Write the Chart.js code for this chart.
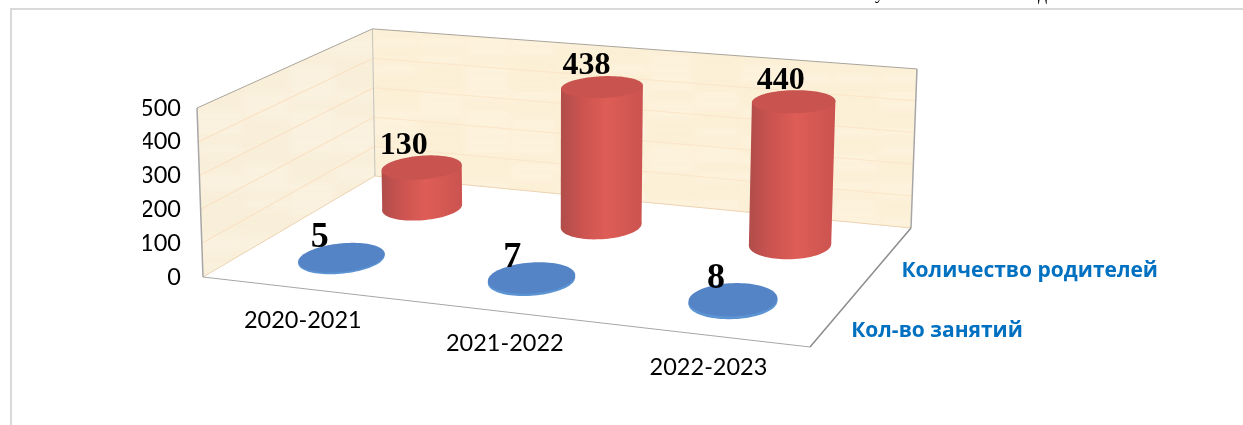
<!DOCTYPE html>
<html lang="ru">
<head>
<meta charset="utf-8">
<title>Chart</title>
<script src="https://cdn.jsdelivr.net/npm/chart.js@4"></script>
<style>
    html, body { margin: 0; padding: 0; background: #fff; overflow: hidden; }
    #frame { position: absolute; left: 10px; top: 8px; right: 0; bottom: 0;
             border-left: 2px solid #d9d9d9; border-top: 2px solid #d9d9d9; }
    canvas { position: absolute; left: 0; top: 0; }
</style>
</head>
<body>
<div id="frame"></div>
<canvas id="bar-chart" width="1243" height="425"></canvas>
<script>
// Data
const categories = ["2020-2021", "2021-2022", "2022-2023"];
const lessons = [5, 7, 8];
const parents = [130, 438, 440];
const seriesNames = ["Кол-во занятий", "Количество родителей"];

// Back corners of the floor, the front ones come from the chart area
const backLeft = { x: 375, y: 176 };
const backRight = { x: 911, y: 228 };
const vanish = { x: 546, y: 9950 }; // verticals fan out slightly from here
const depthRatio = 1.94; // circle radius along depth vs along categories
const categoryShift = [6, 12, 7.5]; // the labels don't sit evenly under the edge

const colors = [
    { top: "#5484c5", side: ["#5b93d3", "#5b93d3", "#5b93d3", "#5b93d3"] },
    { top: "#c8534f", side: ["#b04d4a", "#cb5350", "#de5d56", "#cb5350"] }
];

// square (s along categories, t along depth) -> floor pixel
function makeFloor(area) {
    const x0 = area.left, y0 = area.bottom, x1 = area.right, y1 = area.bottom + 70;
    const x2 = backRight.x, y2 = backRight.y, x3 = backLeft.x, y3 = backLeft.y;
    const dx1 = x1 - x2, dx2 = x3 - x2, sx = x0 - x1 + x2 - x3;
    const dy1 = y1 - y2, dy2 = y3 - y2, sy = y0 - y1 + y2 - y3;
    const det = dx1 * dy2 - dx2 * dy1;
    const g = (sx * dy2 - dx2 * sy) / det;
    const h = (dx1 * sy - sx * dy1) / det;
    const a = x1 - x0 + g * x1, b = x3 - x0 + h * x3;
    const d = y1 - y0 + g * y1, e = y3 - y0 + h * y3;
    return function (s, t) {
        const w = g * s + h * t + 1;
        return { x: (a * s + b * t + x0) / w, y: (d * s + e * t + y0) / w, w: w };
    };
}

// lift a floor point by a height given in chart area pixels
function lift(p, height) {
    const hh = height / p.w;
    return { x: p.x + (p.x - vanish.x) * hh / (vanish.y - p.y), y: p.y - hh };
}

function poly(ctx, pts) {
    ctx.beginPath();
    pts.forEach((p, i) => i ? ctx.lineTo(p.x, p.y) : ctx.moveTo(p.x, p.y));
    ctx.closePath();
}

function fillWall(ctx, pts, base) {
    ctx.save();
    poly(ctx, pts);
    ctx.fillStyle = base;
    ctx.fill();
    ctx.clip();
    // faint paper streaks
    ctx.filter = "blur(3px)";
    const xs = pts.map(p => p.x), ys = pts.map(p => p.y);
    const minX = Math.min(...xs), maxX = Math.max(...xs);
    const minY = Math.min(...ys), maxY = Math.max(...ys);
    for (let y = minY, n = 0; y < maxY; y += 9, n++) {
        for (let x = minX, m = 0; x < maxX; x += 46, m++) {
            const v = Math.sin(n * 12.9 + m * 78.2) * 43758.5;
            const f = v - Math.floor(v);
            ctx.fillStyle = f > 0.5 ? "rgba(255,255,255,0.10)" : "rgba(235,228,190,0.08)";
            ctx.fillRect(x, y, 46, 9);
        }
    }
    ctx.restore();
}

const walls3d = {
    id: "walls3d",
    beforeDatasetsDraw(chart) {
        const ctx = chart.ctx, area = chart.chartArea, y = chart.scales.y;
        const floor = makeFloor(area);
        const base = y.getPixelForValue(0), top = base - y.getPixelForValue(500);
        const fl = floor(0, 0), bl = floor(0, 1), br = floor(1, 1), fr = floor(1, 0);
        const flT = lift(fl, top), blT = lift(bl, top), brT = lift(br, top);

        fillWall(ctx, [fl, flT, blT, bl], "#faf0dc");
        fillWall(ctx, [bl, blT, brT, br], "#fdf1d9");

        // gridlines on the walls
        ctx.lineWidth = 1;
        y.ticks.forEach(tick => {
            if (tick.value === 0 || tick.value === 500) return;
            const h = base - y.getPixelForValue(tick.value);
            const a = lift(fl, h), b = lift(bl, h), c = lift(br, h);
            ctx.strokeStyle = "#fbdfc0";
            ctx.beginPath();
            ctx.moveTo(a.x, a.y);
            ctx.lineTo(b.x, b.y);
            ctx.stroke();
            ctx.strokeStyle = "#fbe6c9";
            ctx.beginPath();
            ctx.moveTo(b.x, b.y);
            ctx.lineTo(c.x, c.y);
            ctx.stroke();
        });

        // wall bottoms
        ctx.strokeStyle = "#ecd2b0";
        ctx.beginPath();
        ctx.moveTo(fl.x, fl.y);
        ctx.lineTo(bl.x, bl.y);
        ctx.lineTo(br.x, br.y);
        ctx.stroke();

        // wall tops and verticals
        ctx.strokeStyle = "#a9a49a";
        ctx.beginPath();
        ctx.moveTo(flT.x, flT.y);
        ctx.lineTo(blT.x, blT.y);
        ctx.lineTo(brT.x, brT.y);
        ctx.stroke();
        ctx.strokeStyle = "#c4c2bc";
        ctx.beginPath();
        ctx.moveTo(blT.x, blT.y);
        ctx.lineTo(bl.x, bl.y);
        ctx.stroke();
        ctx.lineWidth = 1.5;
        ctx.strokeStyle = "#a6a6a6";
        ctx.beginPath();
        ctx.moveTo(flT.x, flT.y);
        ctx.lineTo(fl.x, fl.y);
        ctx.moveTo(brT.x, brT.y);
        ctx.lineTo(br.x, br.y);
        ctx.stroke();

        // floor edges
        ctx.lineWidth = 1;
        ctx.strokeStyle = "#a6a6a6";
        ctx.beginPath();
        ctx.moveTo(fl.x, fl.y);
        ctx.lineTo(fr.x, fr.y);
        ctx.stroke();
        ctx.lineWidth = 1.5;
        ctx.strokeStyle = "#8c8c8c";
        ctx.beginPath();
        ctx.moveTo(fr.x, fr.y);
        ctx.lineTo(br.x, br.y);
        ctx.stroke();
    },
    // the bars get drawn as cylinders standing on the floor
    beforeDatasetDraw(chart, args) {
        const ctx = chart.ctx, area = chart.chartArea;
        const floor = makeFloor(area);
        const t = (args.index + 0.5) / chart.data.datasets.length;
        const c = colors[args.index];
        args.meta.data.forEach(bar => {
            const s = (bar.x - area.left) / area.width;
            const height = bar.base - bar.y;
            const rs = bar.width / 2 / area.width, rt = rs * depthRatio;
            const low = [], high = [];
            for (let k = 0; k < 90; k++) {
                const ang = k / 90 * Math.PI * 2;
                const p = floor(s + rs * Math.cos(ang), t + rt * Math.sin(ang));
                low.push(p);
                high.push(lift(p, height));
            }
            const byX = (list, sign) => list.reduce((m, p) => (p.x - m.x) * sign > 0 ? p : m);
            const lowL = byX(low, -1), lowR = byX(low, 1), highL = byX(high, -1), highR = byX(high, 1);
            const grad = ctx.createLinearGradient(Math.min(lowL.x, highL.x), 0, Math.max(lowR.x, highR.x), 0);
            grad.addColorStop(0, c.side[0]);
            grad.addColorStop(0.25, c.side[1]);
            grad.addColorStop(0.55, c.side[2]);
            grad.addColorStop(1, c.side[3]);
            ctx.fillStyle = grad;
            poly(ctx, low);
            ctx.fill();
            poly(ctx, [lowL, highL, highR, lowR]);
            ctx.fill();
            ctx.fillStyle = c.top;
            poly(ctx, high);
            ctx.fill();
        });
        return false;
    },
    afterDatasetsDraw(chart) {
        const ctx = chart.ctx, area = chart.chartArea;
        const floor = makeFloor(area);
        const n = chart.data.datasets.length;
        ctx.save();

        // value labels
        ctx.fillStyle = "#000";
        ctx.textAlign = "center";
        ctx.textBaseline = "alphabetic";
        chart.data.datasets.forEach((ds, di) => {
            const t = (di + 0.5) / n;
            ctx.font = di === 0 ? "bold 36px 'Liberation Serif'" : "bold 32px 'Liberation Serif'";
            chart.getDatasetMeta(di).data.forEach((bar, i) => {
                const s = (bar.x - area.left) / area.width;
                const rs = bar.width / 2 / area.width, rt = rs * depthRatio;
                const p = floor(s, t);
                const topY = lift(floor(s, t + rt), bar.base - bar.y).y;
                const c = lift(p, bar.base - bar.y);
                const dx = (di === 0 ? -22 : -18) + 2.5 * i;
                ctx.fillText(ds.data[i], c.x + dx, topY + (di === 0 ? 4 : -2));
            });
        });

        // category labels under the front edge
        ctx.font = "23.5px Lato";
        ctx.textBaseline = "middle";
        const x = chart.scales.x;
        categories.forEach((label, i) => {
            const s = (x.getPixelForValue(i) - area.left) / area.width;
            const p = floor(s, 0);
            ctx.fillText(label, p.x + categoryShift[i], p.y + 32.5);
        });

        // series labels along the right edge
        ctx.font = "bold 21px 'Open Sans'";
        ctx.fillStyle = "#0070c0";
        ctx.textAlign = "left";
        seriesNames.forEach((label, i) => {
            const p = floor(1, (i + 0.5) / n);
            ctx.fillText(label, p.x + 13, p.y + 17);
        });

        // bottom of a text line cut off by the page crop
        ctx.font = "18px 'Liberation Serif'";
        ctx.fillStyle = "#000";
        ctx.textBaseline = "alphabetic";
        ctx.fillText("у", 875, -1);
        ctx.fillText("д", 1038, 0);
        ctx.restore();
    }
};

new Chart(document.getElementById("bar-chart"), {
    type: "bar",
    data: {
        labels: categories,
        datasets: [
            { label: seriesNames[0], data: lessons, backgroundColor: "#5484c5" },
            { label: seriesNames[1], data: parents, backgroundColor: "#c8534f" }
        ]
    },
    options: {
        responsive: false,
        animation: false,
        layout: { padding: { left: 143, right: 433, top: 108, bottom: 148 } },
        plugins: { legend: { display: false }, tooltip: { enabled: false } },
        datasets: { bar: { grouped: false, categoryPercentage: 1, barPercentage: 0.4 } },
        scales: {
            x: { display: false },
            y: {
                min: 0,
                max: 500,
                afterFit(scale) { scale.width = 60; },
                grid: { display: false, drawTicks: false },
                border: { display: false },
                ticks: {
                    stepSize: 100,
                    padding: 22,
                    color: "#000",
                    font: { family: "Lato", size: 23.5 }
                }
            }
        }
    },
    plugins: [walls3d]
});
</script>
</body>
</html>
